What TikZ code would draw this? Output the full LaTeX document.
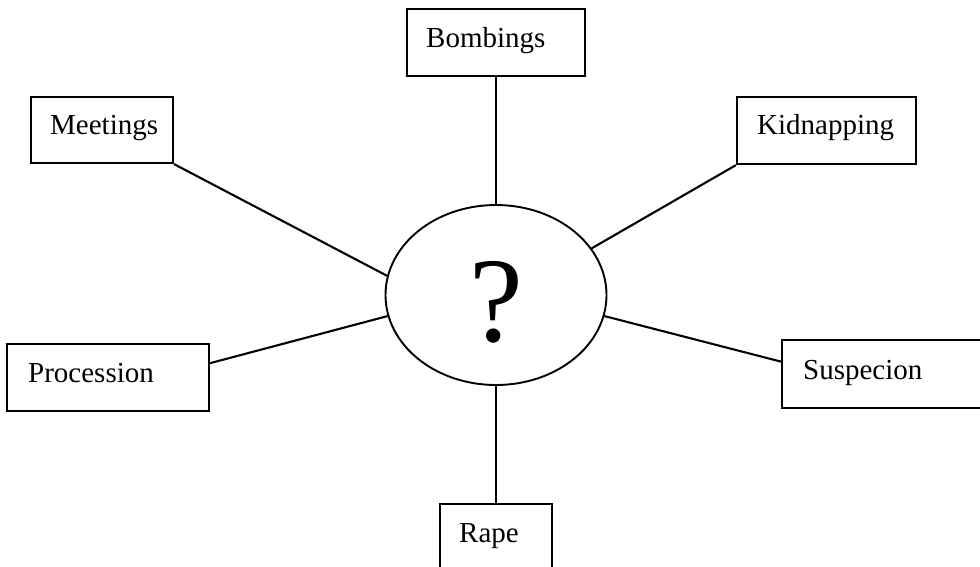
\documentclass[tikz,border=0pt]{standalone}
\usepackage{fontspec}
\setmainfont{Liberation Serif}
\usetikzlibrary{shapes.geometric}
\begin{document}
\begin{tikzpicture}[x=1pt,y=-1pt,
  box/.style={draw, line width=2.3pt, rectangle, inner sep=0pt},
  lbl/.style={inner sep=0pt, anchor=base west, font=\fontsize{29}{34}\selectfont},
  conn/.style={line width=2.1pt}]
\useasboundingbox (0,0) rectangle (980,566);
\clip (0,0) rectangle (980,566);
\node[draw, ellipse, line width=1.9pt, inner sep=0pt, minimum width=221pt, minimum height=180pt] (ell) at (496,295) {};
\node[inner sep=0pt, font=\fontsize{121}{130}\selectfont] (q) at (496,302) {?};
% boxes
\node[box, minimum width=178pt, minimum height=67pt] (bomb) at (496,42.5) {};
\node[box, minimum width=142pt, minimum height=66pt] (meet) at (102,130) {};
\node[box, minimum width=179pt, minimum height=67pt] (kid) at (826.5,130.5) {};
\node[box, minimum width=202pt, minimum height=67pt] (proc) at (108,377.5) {};
\node[box, minimum width=200pt, minimum height=68pt] (susp) at (882,374) {};
\node[box, minimum width=112pt, minimum height=68pt] (rape) at (496,538) {};
% labels
\node[lbl] (tbomb) at (426,47) {Bombings};
\node[lbl] (tmeet) at (50,134) {Meetings};
\node[lbl] (tkid) at (757,134) {Kidnapping};
\node[lbl] (tproc) at (28,382) {Procession};
\node[lbl] (tsusp) at (803,379) {Suspecion};
\node[lbl] (trape) at (459,542) {Rape};
% connectors
\draw[conn] (bomb.south) -- (ell.north);
\draw[conn] (ell.south) -- (rape.north);
\draw[conn] (meet.south east) -- (ell.170.7);
\draw[conn] (kid.south west) -- (ell.26.6);
\draw[conn] (proc.8.7) -- (ell.191.4);
\draw[conn] (susp.173.7) -- (ell.349);
\end{tikzpicture}
\end{document}
